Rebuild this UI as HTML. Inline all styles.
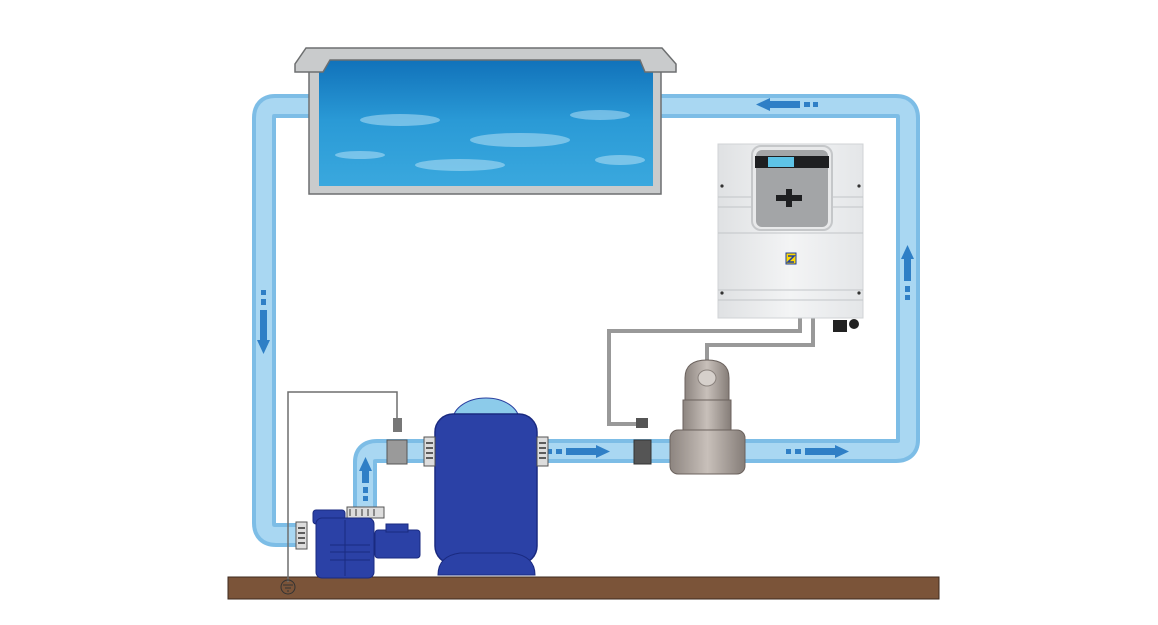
<!DOCTYPE html>
<html><head><style>html,body{margin:0;padding:0;background:#fff}svg{display:block}</style></head><body>
<svg width="1158" height="625" viewBox="0 0 1158 625" xmlns="http://www.w3.org/2000/svg">
<defs>
<linearGradient id="w" x1="0" y1="0" x2="0" y2="1"><stop offset="0" stop-color="#0f6fb8"/><stop offset="0.5" stop-color="#2a9ad6"/><stop offset="1" stop-color="#3aa8de"/></linearGradient>
<linearGradient id="cell" x1="0" y1="0" x2="1" y2="0"><stop offset="0" stop-color="#8d8580"/><stop offset="0.5" stop-color="#c8c0ba"/><stop offset="1" stop-color="#857d78"/></linearGradient>
<linearGradient id="box" x1="0" y1="0" x2="1" y2="0"><stop offset="0" stop-color="#dfe1e3"/><stop offset="0.5" stop-color="#f3f4f5"/><stop offset="1" stop-color="#e4e6e8"/></linearGradient>
</defs>
<rect width="1158" height="625" fill="#fff"/>
<!-- pipes -->
<g fill="none" stroke="#7dbde6" stroke-width="24">
<path d="M320 106 H275 Q264 106 264 118 V523 Q264 535 276 535 H300"/>
<path d="M650 106 H896 Q908 106 908 118 V440 Q908 451 896 451 H540"/>
<path d="M365 510 V462 Q365 451 377 451 H430"/>
</g>
<g fill="none" stroke="#a9d7f2" stroke-width="16">
<path d="M320 106 H275 Q264 106 264 118 V523 Q264 535 276 535 H300"/>
<path d="M650 106 H896 Q908 106 908 118 V440 Q908 451 896 451 H540"/>
<path d="M365 510 V462 Q365 451 377 451 H430"/>
</g>
<!-- arrows -->
<g fill="#2f7fc6">
<rect x="261" y="290" width="5" height="5"/><rect x="261" y="299" width="5" height="6"/><path d="M260 310 h7 v30 h3 l-6.5 14 l-6.5-14 h3z"/>
<rect x="813" y="102" width="5" height="5"/><rect x="804" y="102" width="6" height="5"/><path d="M800 101 v7 h-30 v3 l-14-6.5 l14-6.5 v3z"/>
<rect x="905" y="295" width="5" height="5"/><rect x="905" y="286" width="5" height="6"/><path d="M904 281 h7 v-22 h3 l-6.5-14 l-6.5 14 h3z"/>
<rect x="547" y="449" width="5" height="5"/><rect x="556" y="449" width="6" height="5"/><path d="M566 448 v7 h30 v3 l14-6.5 l-14-6.5 v3z"/>
<rect x="786" y="449" width="5" height="5"/><rect x="795" y="449" width="6" height="5"/><path d="M805 448 v7 h30 v3 l14-6.5 l-14-6.5 v3z"/>
<rect x="363" y="496" width="5" height="5"/><rect x="363" y="487" width="5" height="6"/><path d="M362 483 h7 v-12 h3 l-6.5-14 l-6.5 14 h3z"/>
</g>
<!-- pool -->
<rect x="309" y="70" width="352" height="124" fill="#c9cbcc" stroke="#6d6f70" stroke-width="1.5"/>
<rect x="319" y="56" width="334" height="130" fill="url(#w)"/>
<g fill="#cfeefc" opacity="0.45">
<ellipse cx="400" cy="120" rx="40" ry="6"/><ellipse cx="520" cy="140" rx="50" ry="7"/><ellipse cx="600" cy="115" rx="30" ry="5"/><ellipse cx="460" cy="165" rx="45" ry="6"/><ellipse cx="360" cy="155" rx="25" ry="4"/><ellipse cx="620" cy="160" rx="25" ry="5"/></g>
<path d="M306 48 H662 L676 64 V72 H645 L640 60 H330 L323 72 H295 V64 Z" fill="#c9cbcc" stroke="#6d6f70" stroke-width="1.5"/>
<!-- ground -->
<rect x="228" y="577" width="711" height="22" fill="#7b5439" stroke="#3e2a1e"/>
<!-- wires -->
<g fill="none" stroke="#6e6e6e" stroke-width="1.5"><path d="M288 582 V392 H397 V420"/></g>
<circle cx="288" cy="587" r="7" fill="none" stroke="#333"/>
<path d="M283 585h10M285 588h6M287 591h2" stroke="#333"/>
<rect x="393" y="418" width="9" height="14" fill="#777"/>
<rect x="387" y="440" width="20" height="24" fill="#9a9a9a" stroke="#555"/>
<g fill="none" stroke="#999" stroke-width="4"><path d="M800 318 V331 H609 V424 H636"/><path d="M813 318 V345 H707 V360"/></g>
<rect x="636" y="418" width="12" height="10" fill="#555"/>
<rect x="634" y="440" width="17" height="24" fill="#555" stroke="#333"/>
<!-- filter -->
<ellipse cx="486" cy="420" rx="33" ry="22" fill="#8ccbea" stroke="#2a3fa0"/>
<rect x="435" y="414" width="102" height="150" rx="18" fill="#2b41a6" stroke="#1a2a80" stroke-width="1.5"/>
<path d="M438 575 Q438 556 460 553 H512 Q535 556 535 575 Z" fill="#2b41a6" stroke="#1a2a80"/>
<rect x="424" y="437" width="11" height="29" fill="#ddd" stroke="#555"/>
<rect x="537" y="437" width="11" height="29" fill="#ddd" stroke="#555"/>
<g stroke="#333" stroke-width="1.5"><path d="M426 443h7M426 448h7M426 453h7M426 458h7M539 443h7M539 448h7M539 453h7M539 458h7"/></g>
<!-- pump -->
<rect x="347" y="507" width="37" height="11" fill="#ddd" stroke="#555"/>
<path d="M350 509v7M356 509v7M362 509v7M368 509v7M374 509v7" stroke="#333"/>
<rect x="313" y="510" width="32" height="14" rx="3" fill="#2b41a6" stroke="#1a2a80"/>
<rect x="316" y="518" width="58" height="60" rx="6" fill="#2b41a6" stroke="#1a2a80"/>
<rect x="375" y="530" width="45" height="28" rx="3" fill="#2b41a6" stroke="#1a2a80"/>
<rect x="386" y="524" width="22" height="8" fill="#2b41a6" stroke="#1a2a80"/>
<path d="M330 545h40M330 552h40M330 560h40M345 520v56" stroke="#1a2a80"/>
<rect x="296" y="522" width="11" height="27" fill="#ddd" stroke="#555"/>
<path d="M298 528h7M298 533h7M298 538h7M298 543h7" stroke="#333" stroke-width="1.5"/>
<!-- cell -->
<path d="M685 400 V378 Q685 360 707 360 Q729 360 729 378 V400 Z" fill="url(#cell)" stroke="#6b625d"/>
<rect x="683" y="400" width="48" height="30" fill="url(#cell)" stroke="#6b625d"/>
<rect x="670" y="430" width="75" height="44" rx="8" fill="url(#cell)" stroke="#6b625d"/>
<ellipse cx="707" cy="378" rx="9" ry="8" fill="#d6d0cb" stroke="#8a827d"/>
<!-- controller -->
<rect x="718" y="144" width="145" height="174" fill="url(#box)" stroke="#d0d3d6"/>
<g stroke="#c2c5c8"><path d="M718 197h145M718 207h145M718 233h145M718 290h145M718 300h145"/></g>
<rect x="752" y="146" width="80" height="84" rx="9" fill="#e8e9ea" stroke="#c5c7c9" stroke-width="2"/>
<rect x="756" y="150" width="72" height="77" rx="6" fill="#a3a5a7"/>
<rect x="755" y="156" width="74" height="12" fill="#1e1f21"/>
<rect x="768" y="157" width="26" height="10" fill="#5ec3e6"/>
<path d="M786 189h10v-6h6v6h10v6h-10v6h-6v-6h-10z" fill="#1e1f21" transform="translate(-10,6)"/>
<rect x="786" y="253" width="10" height="11" fill="#ffd800" stroke="#1f3f9f"/>
<path d="M788 256h6l-6 6h6" stroke="#1f3f9f" stroke-width="1.5" fill="none"/>
<circle cx="722" cy="186" r="1.6" fill="#333"/><circle cx="859" cy="186" r="1.6" fill="#333"/><circle cx="722" cy="293" r="1.6" fill="#333"/><circle cx="859" cy="293" r="1.6" fill="#333"/>
<rect x="833" y="320" width="14" height="12" fill="#222"/><circle cx="854" cy="324" r="5" fill="#222"/>
</svg>
</body></html>
